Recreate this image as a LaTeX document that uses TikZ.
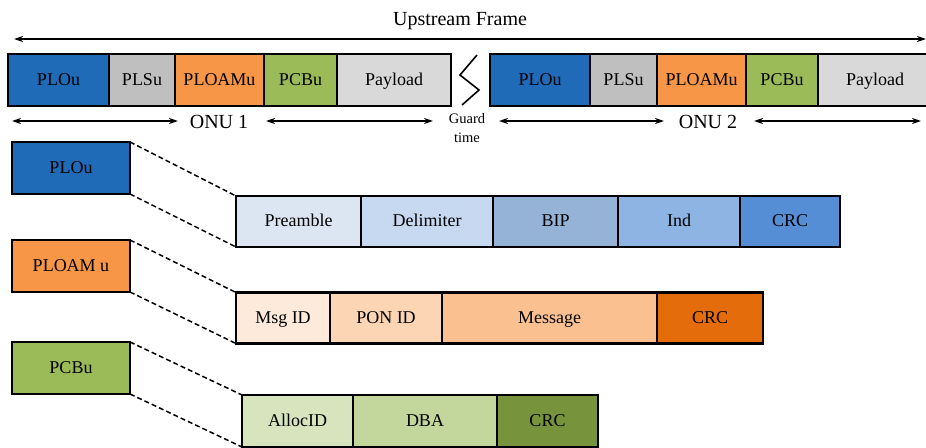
\documentclass[tikz,border=0pt]{standalone}
\usepackage{fontspec}
\setmainfont{Liberation Serif}
\usetikzlibrary{arrows.meta}

\definecolor{ploblue}{RGB}{31,107,183}
\definecolor{plsgray}{RGB}{191,191,191}
\definecolor{ploamor}{RGB}{247,150,70}
\definecolor{pcbgreen}{RGB}{155,187,89}
\definecolor{paygray}{RGB}{217,217,217}
\definecolor{bluea}{RGB}{220,230,242}
\definecolor{blueb}{RGB}{198,217,241}
\definecolor{bluec}{RGB}{149,179,215}
\definecolor{blued}{RGB}{141,180,226}
\definecolor{bluee}{RGB}{85,142,213}
\definecolor{ora}{RGB}{253,234,218}
\definecolor{orb}{RGB}{252,213,181}
\definecolor{orc}{RGB}{250,192,144}
\definecolor{ord}{RGB}{228,108,10}
\definecolor{gra}{RGB}{215,228,189}
\definecolor{grb}{RGB}{195,214,155}
\definecolor{grc}{RGB}{119,147,60}

\tikzset{
  seg/.style={draw, line width=2.2pt, inner sep=0pt, outer sep=0pt,
    anchor=west, minimum height=52pt, text height=11pt, text depth=1pt,
    font=\fontsize{18}{21}\selectfont},
  sidebox/.style={draw, line width=2.2pt, inner sep=0pt, outer sep=0pt,
    minimum width=118pt, minimum height=52pt, text height=11pt, text depth=1pt,
    font=\fontsize{18}{21}\selectfont},
  dimarrow/.style={line width=1.6pt, {Stealth[length=9pt,width=6pt]}-{Stealth[length=9pt,width=6pt]}},
  zoomline/.style={line width=1.5pt, dash pattern=on 5pt off 3pt},
  lbl/.style={font=\fontsize{20}{24}\selectfont, inner sep=0pt}
}

\begin{document}
\begin{tikzpicture}[x=1pt,y=-1pt]
\useasboundingbox (0,0) rectangle (926,447);

% overall frame arrow
\node[lbl] (title) at (460,21) {Upstream Frame};
\coordinate (fl) at (14,39);
\coordinate (fr) at (926,39);
\draw[dimarrow] (fl) -- (fr);

% ONU 1 burst
\node[seg, fill=ploblue, minimum width=101pt] (a1) at (8,80) {PLOu};
\node[seg, fill=plsgray, minimum width=66pt] (a2) at (a1.east) {PLSu};
\node[seg, fill=ploamor, minimum width=89pt] (a3) at (a2.east) {PLOAMu};
\node[seg, fill=pcbgreen, minimum width=73pt] (a4) at (a3.east) {PCBu};
\node[seg, fill=paygray, minimum width=114pt] (a5) at (a4.east) {Payload};

% ONU 2 burst
\node[seg, fill=ploblue, minimum width=100pt] (b1) at (490,80) {PLOu};
\node[seg, fill=plsgray, minimum width=67pt] (b2) at (b1.east) {PLSu};
\node[seg, fill=ploamor, minimum width=89pt] (b3) at (b2.east) {PLOAMu};
\node[seg, fill=pcbgreen, minimum width=72pt] (b4) at (b3.east) {PCBu};
\node[seg, fill=paygray, minimum width=114pt] (b5) at (b4.east) {Payload};

% guard time break mark
\coordinate (g1) at (477,55);
\coordinate (g2) at (460,75);
\coordinate (g3) at (479,90);
\coordinate (g4) at (462,105);
\draw[line width=1.6pt] (g1) -- (g2) -- (g3) -- (g4);
\node[font=\fontsize{14.5}{18.5}\selectfont, align=center, inner sep=0pt] (guard) at (467,128) {Guard\\time};

% ONU extent arrows
\node[lbl] (onu1) at (219,122) {ONU 1};
\coordinate (o1a) at (12,121);
\coordinate (o1b) at (178,121);
\coordinate (o1c) at (266,121);
\coordinate (o1d) at (433,121);
\draw[dimarrow] (o1a) -- (o1b);
\draw[dimarrow] (o1c) -- (o1d);

\node[lbl] (onu2) at (708,122) {ONU 2};
\coordinate (o2a) at (499,121);
\coordinate (o2b) at (664,121);
\coordinate (o2c) at (754,121);
\coordinate (o2d) at (921,121);
\draw[dimarrow] (o2a) -- (o2b);
\draw[dimarrow] (o2c) -- (o2d);

% field blocks on the left
\node[sidebox, fill=ploblue] (plo) at (71,168) {PLOu};
\node[sidebox, fill=ploamor] (ploam) at (71,266) {PLOAM u};
\node[sidebox, fill=pcbgreen] (pcb) at (71,368) {PCBu};

% PLOu structure
\node[seg, fill=bluea, minimum width=125pt, minimum height=51pt] (p1) at (236,221.5) {Preamble};
\node[seg, fill=blueb, minimum width=132pt, minimum height=51pt] (p2) at (p1.east) {Delimiter};
\node[seg, fill=bluec, minimum width=125pt, minimum height=51pt] (p3) at (p2.east) {BIP};
\node[seg, fill=blued, minimum width=122pt, minimum height=51pt] (p4) at (p3.east) {Ind};
\node[seg, fill=bluee, minimum width=100pt, minimum height=51pt] (p5) at (p4.east) {CRC};

% PLOAMu structure
\node[seg, fill=ora, minimum width=94pt, minimum height=51pt] (m1) at (236,318) {Msg ID};
\node[seg, fill=orb, minimum width=112pt, minimum height=51pt] (m2) at (m1.east) {PON ID};
\node[seg, fill=orc, minimum width=215pt, minimum height=51pt] (m3) at (m2.east) {Message};
\node[seg, fill=ord, minimum width=106pt, minimum height=51pt] (m4) at (m3.east) {CRC};

% PCBu structure
\node[seg, fill=gra, minimum width=111pt] (c1) at (242,421) {AllocID};
\node[seg, fill=grb, minimum width=144pt] (c2) at (c1.east) {DBA};
\node[seg, fill=grc, minimum width=101pt] (c3) at (c2.east) {CRC};

% expansion lines
\draw[zoomline] (plo.north east) -- (p1.north west);
\draw[zoomline] (plo.south east) -- (p1.south west);
\draw[zoomline] (ploam.north east) -- (m1.north west);
\draw[zoomline] (ploam.south east) -- (m1.south west);
\draw[zoomline] (pcb.north east) -- (c1.north west);
\draw[zoomline] (pcb.south east) -- (c1.south west);
\end{tikzpicture}
\end{document}
